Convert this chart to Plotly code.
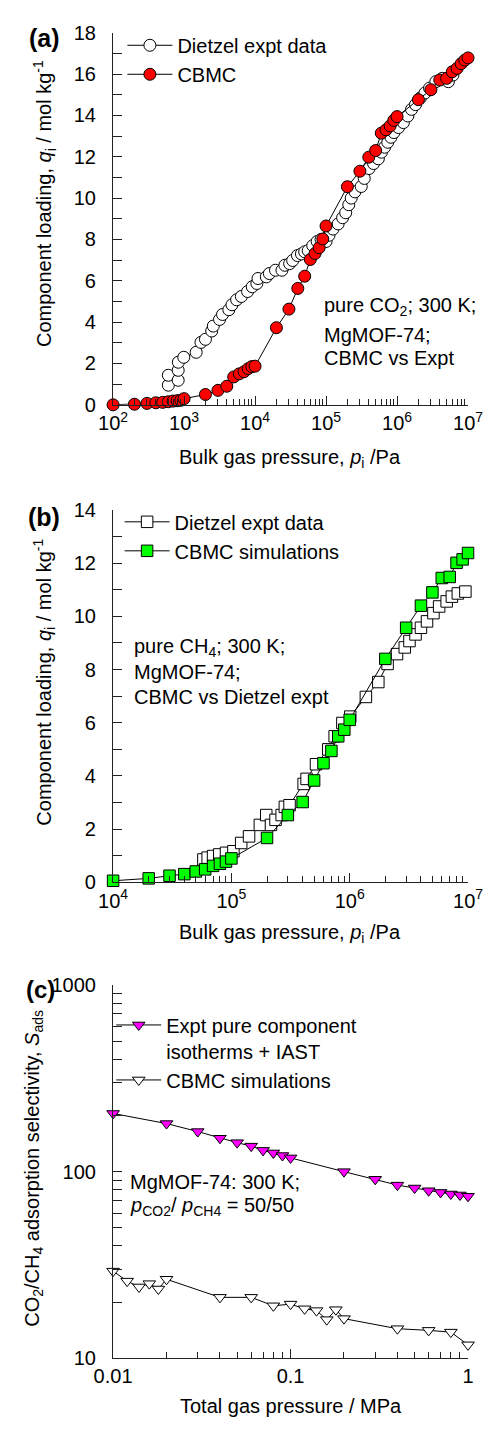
import plotly.graph_objects as go

# ---------------- data ----------------
# (a) pure CO2, 300 K, MgMOF-74
a_exp_p = [600, 600, 826, 826, 830, 990, 1480, 1730, 2000, 2450, 2580, 3160, 3480, 4270, 4730,
           5500, 6410, 7850, 9120, 10600, 11000, 14400, 15900, 19400, 23900, 26300, 30700,
           33900, 39600, 45000, 50000, 56000, 65000, 75000, 85000, 100000, 110000, 125000,
           148000, 171000, 189000, 209000, 226000, 255000, 313000, 345000, 403000, 467000,
           545000, 603000, 668000, 740000, 820000, 904000, 1050000, 1230000, 1420000,
           1600000, 1820000, 2130000, 2470000, 2870000, 3520000, 4340000, 5290000, 6130000]
a_exp_q = [0.95, 1.43, 1.19, 1.67, 2.06, 2.3, 2.54, 3.02, 3.17, 3.57, 3.81, 4.13, 4.37, 4.6, 4.84,
           5.08, 5.24, 5.48, 5.71, 5.87, 6.11, 6.19, 6.35, 6.51, 6.51, 6.75, 6.83,
           6.98, 7.22, 7.3, 7.4, 7.46, 7.7, 7.9, 8.0, 7.9, 8.2, 8.5,
           8.75, 9.05, 9.29, 9.68, 10.0, 10.3, 10.56, 10.95, 11.43, 11.67,
           11.9, 12.22, 12.46, 12.7, 12.94, 13.17, 13.41, 13.65, 13.97,
           14.29, 14.52, 14.84, 15.08, 15.32, 15.63, 15.79, 15.63, 15.95]
a_cbmc_p = [100, 200, 300, 400, 500, 600, 700, 800, 900, 1000, 2000, 3000, 4000, 5000, 6000,
            7000, 8000, 9000, 10000, 20000, 30000, 40000, 50000, 60000, 70000, 80000, 90000,
            100000, 200000, 300000, 400000, 500000, 600000, 700000, 800000, 900000, 1000000,
            2000000, 3000000, 4000000, 5000000, 6000000, 7000000, 8000000, 9000000, 10000000]
a_cbmc_q = [0.0, 0.03, 0.07, 0.1, 0.12, 0.15, 0.18, 0.2, 0.22, 0.3, 0.5, 0.7, 0.9, 1.35, 1.5,
            1.6, 1.75, 1.85, 1.87, 3.73, 4.63, 5.63, 6.22, 7.03, 7.32, 7.6, 8.02,
            8.65, 10.55, 11.3, 11.98, 12.3, 13.14, 13.3, 13.49, 13.76, 13.94,
            14.76, 15.24, 15.71, 15.79, 16.11, 16.27, 16.5, 16.67, 16.78]

# (b) pure CH4, 300 K, MgMOF-74
b_exp_p = [58000, 63000, 70000, 79000, 90000, 104000, 121000, 141000, 174000, 197000, 216000,
           236000, 266000, 283000, 310000, 408000, 432000, 519000, 659000, 746000, 867000,
           1010000, 1370000, 1745000, 2090000, 2510000, 2920000, 3200000, 3600000, 4000000,
           4500000, 5100000, 5700000, 6600000, 7300000, 8200000, 9500000]
b_exp_q = [0.86, 0.93, 0.99, 1.05, 1.11, 1.17, 1.48, 1.73, 2.16, 2.53, 2.16,
           2.35, 2.53, 2.84, 2.9, 3.7, 3.89, 4.44, 5.0, 5.49, 5.99,
           6.23, 6.97, 7.53, 8.21, 8.58, 8.83, 9.07, 9.32, 9.57,
           9.81, 10.12, 10.37, 10.56, 10.74, 10.86, 10.93]
b_cbmc_p = [10000, 20000, 30000, 40000, 50000, 60000, 70000, 80000, 90000, 100000, 200000,
            300000, 400000, 500000, 600000, 700000, 800000, 900000, 1000000, 2000000, 3000000,
            4000000, 5000000, 6000000, 7000000, 8000000, 9000000, 10000000]
b_cbmc_q = [0.06, 0.15, 0.25, 0.31, 0.41, 0.49, 0.62, 0.7, 0.78, 0.9, 1.67,
            2.53, 3.02, 3.83, 4.48, 4.94, 5.49, 5.74, 6.11, 8.4, 9.57,
            10.4, 10.9, 11.44, 11.48, 12.01, 12.14, 12.38]

# (c) CO2/CH4 selectivity, 50/50, 300 K
c_iast_p = [0.01, 0.02, 0.03, 0.04, 0.05, 0.06, 0.07, 0.08, 0.09, 0.1,
            0.2, 0.3, 0.4, 0.5, 0.6, 0.7, 0.8, 0.9, 1.0]
c_iast_s = [205, 181, 164, 151, 143, 137, 130, 126, 122, 118.5,
            100, 91, 84.7, 81.7, 79, 77.4, 75.9, 75, 73.8]
c_cbmc_p = [0.01, 0.012, 0.014, 0.016, 0.018, 0.02, 0.04, 0.06, 0.08, 0.1,
            0.12, 0.14, 0.16, 0.18, 0.2, 0.4, 0.6, 0.8, 1.0]
c_cbmc_s = [29.3, 25.9, 24.1, 25.1, 23.5, 26.5, 21.2, 21.2, 19.1, 19.5,
            18.4, 18.0, 16.1, 18.2, 16.3, 14.4, 14.1, 13.8, 11.8]

a_xticks = [1e2, 1e3, 1e4, 1e5, 1e6, 1e7]
a_xlabels = ["10<sup>2</sup>", "10<sup>3</sup>", "10<sup>4</sup>", "10<sup>5</sup>", "10<sup>6</sup>", "10<sup>7</sup>"]
b_xticks = [1e4, 1e5, 1e6, 1e7]
b_xlabels = ["10<sup>4</sup>", "10<sup>5</sup>", "10<sup>6</sup>", "10<sup>7</sup>"]
c_xticks = [0.01, 0.1, 1]
c_xlabels = ["0.01", "0.1", "1"]
c_yticks = [10, 100, 1000]
c_ylabels = ["10", "100", "1000"]

# ---------------- layout helpers ----------------
W, H = 497, 1429
FONT = "Liberation Sans, Arial, sans-serif"
FS = 20
AX = "#222222"
MS = 12


def px(x):
    return x / W


def py(y):
    return 1 - y / H


XDOM = [px(101), px(482)]
DOM_A = [py(400), py(22)]
DOM_B = [py(885), py(506.7)]
DOM_C = [py(1368.3), py(989.3)]


def minor_log(lo, hi):
    vals = []
    for e in range(lo, hi):
        for k in range(2, 10):
            vals.append(k * 10 ** e)
    return vals


fig = go.Figure()

line = dict(color="black", width=1)

# (a)
fig.add_trace(go.Scatter(x=a_exp_p, y=a_exp_q, mode="lines+markers", name="Dietzel expt data",
                         line=line, cliponaxis=False,
                         marker=dict(symbol="circle", size=MS, color="white", line=dict(color="black", width=1)),
                         xaxis="x", yaxis="y", legend="legend"))
fig.add_trace(go.Scatter(x=a_cbmc_p, y=a_cbmc_q, mode="lines+markers", name="CBMC",
                         line=line, cliponaxis=False,
                         marker=dict(symbol="circle", size=MS, color="#FF0000", line=dict(color="black", width=1)),
                         xaxis="x", yaxis="y", legend="legend"))
# (b)
fig.add_trace(go.Scatter(x=b_exp_p, y=b_exp_q, mode="lines+markers", name="Dietzel expt data",
                         line=line, cliponaxis=False,
                         marker=dict(symbol="square", size=MS - 0.5, color="white", line=dict(color="black", width=1)),
                         xaxis="x2", yaxis="y2", legend="legend2"))
fig.add_trace(go.Scatter(x=b_cbmc_p, y=b_cbmc_q, mode="lines+markers", name="CBMC simulations",
                         line=line, cliponaxis=False,
                         marker=dict(symbol="square", size=MS - 0.5, color="#00FF00", line=dict(color="black", width=1)),
                         xaxis="x2", yaxis="y2", legend="legend2"))
# (c)
fig.add_trace(go.Scatter(x=c_iast_p, y=c_iast_s, mode="lines+markers",
                         name="Expt pure component<br>isotherms + IAST",
                         line=line, cliponaxis=False,
                         marker=dict(symbol="triangle-down", size=MS - 1, color="#FF00FF", line=dict(color="black", width=1)),
                         xaxis="x3", yaxis="y3", legend="legend3"))
fig.add_trace(go.Scatter(x=c_cbmc_p, y=c_cbmc_s, mode="lines+markers", name="CBMC simulations",
                         line=line, cliponaxis=False,
                         marker=dict(symbol="triangle-down", size=MS - 1, color="white", line=dict(color="black", width=1)),
                         xaxis="x3", yaxis="y3", legend="legend3"))

tickfont = dict(family=FONT, size=FS, color="black")


def xaxis_log(rng, tv, tt, minor_vals, anchor):
    return dict(type="log", range=rng, domain=XDOM, anchor=anchor,
                tickvals=tv, ticktext=tt, ticks="inside", ticklen=9, tickwidth=1.2, tickcolor=AX,
                showline=True, linecolor=AX, linewidth=1.3, showgrid=False, zeroline=False,
                tickfont=tickfont, ticklabelstandoff=0,
                minor=dict(tickvals=minor_vals, ticks="inside", ticklen=6, tickwidth=1.2, tickcolor=AX, showgrid=False))


def yaxis_lin(rng, dom, anchor):
    return dict(range=rng, domain=dom, anchor=anchor, dtick=2, ticks="inside", ticklen=9, tickwidth=1.2,
                tickcolor=AX, showline=True, linecolor=AX, linewidth=1.3, showgrid=False, zeroline=False,
                tickfont=tickfont, ticklabelstandoff=12,
                minor=dict(dtick=1, ticks="inside", ticklen=9, tickwidth=1.2, tickcolor=AX, showgrid=False))


legend_common = dict(font=dict(family=FONT, size=FS, color="black"), bgcolor="rgba(0,0,0,0)",
                     itemwidth=45, xanchor="left", yanchor="top", tracegroupgap=0, itemclick=False)

fig.update_layout(
    width=W, height=H, margin=dict(l=0, r=0, t=0, b=0),
    paper_bgcolor="white", plot_bgcolor="white",
    font=dict(family=FONT, size=FS, color="black"),
    xaxis=xaxis_log([2, 7], a_xticks, a_xlabels, minor_log(2, 7), "y"),
    yaxis=yaxis_lin([0, 18], DOM_A, "x"),
    xaxis2=xaxis_log([4, 7], b_xticks, b_xlabels, minor_log(4, 7), "y2"),
    yaxis2=yaxis_lin([0, 14], DOM_B, "x2"),
    xaxis3=xaxis_log([-2, 0], c_xticks, c_xlabels, minor_log(-2, 0), "y3"),
    yaxis3=dict(type="log", range=[1, 3], domain=DOM_C, anchor="x3", tickvals=c_yticks, ticktext=c_ylabels,
                ticks="inside", ticklen=9, tickwidth=1.2, tickcolor=AX, showline=True, linecolor=AX,
                linewidth=1.3, showgrid=False, zeroline=False, tickfont=tickfont, ticklabelstandoff=12,
                minor=dict(tickvals=minor_log(1, 3), ticks="inside", ticklen=9, tickwidth=1.2,
                           tickcolor=AX, showgrid=False)),
    legend=dict(x=px(111), y=py(15), **legend_common),
    legend2=dict(x=px(108), y=py(499), **legend_common),
    legend3=dict(x=px(99), y=py(1010), valign="top", **legend_common),
    showlegend=True,
)

ann = []


def text(x, y, s, size=FS, angle=0, xanchor="center", bold=False):
    if bold:
        s = "<b>" + s + "</b>"
    ann.append(dict(x=px(x), y=py(y), xref="paper", yref="paper", text=s, showarrow=False,
                    textangle=angle, xanchor=xanchor, yanchor="middle",
                    font=dict(family=FONT, size=size, color="black")))


# panel labels
text(27, 27, "(a)", size=25, bold=True)
text(27, 514, "(b)", size=25, bold=True)
text(23, 994, "(c)", size=24, bold=True)

# axis titles
text(28, 196, "Component loading, <i>q</i><sub>i</sub> / mol kg<sup>-1</sup>", angle=-90)
text(27, 682, "Component loading, <i>q</i><sub>i</sub> / mol kg<sup>-1</sup>", angle=-90)
text(16, 1175, "CO<sub>2</sub>/CH<sub>4</sub> adsorption selectivity, <i>S</i><sub>ads</sub>", angle=-90)
text(291, 455, "Bulk gas pressure, <i>p</i><sub>i</sub> /Pa")
text(291, 937, "Bulk gas pressure, <i>p</i><sub>i</sub> /Pa")
text(292, 1417, "Total gas pressure / MPa")

# in-plot notes
text(325, 300, "pure CO<sub>2</sub>; 300 K;", xanchor="left")
text(325, 329, "MgMOF-74;", xanchor="left")
text(325, 352, "CBMC vs Expt", xanchor="left")
text(121, 646, "pure CH<sub>4</sub>; 300 K;", xanchor="left")
text(121, 671, "MgMOF-74;", xanchor="left")
text(121, 697, "CBMC vs Dietzel expt", xanchor="left")
text(117, 1189, "MgMOF-74: 300 K;", xanchor="left")
text(117, 1214, "<i>p</i><sub>CO2</sub>/ <i>p</i><sub>CH4</sub> = 50/50", xanchor="left")

fig.update_layout(annotations=ann)
fig.write_html("out.html")
